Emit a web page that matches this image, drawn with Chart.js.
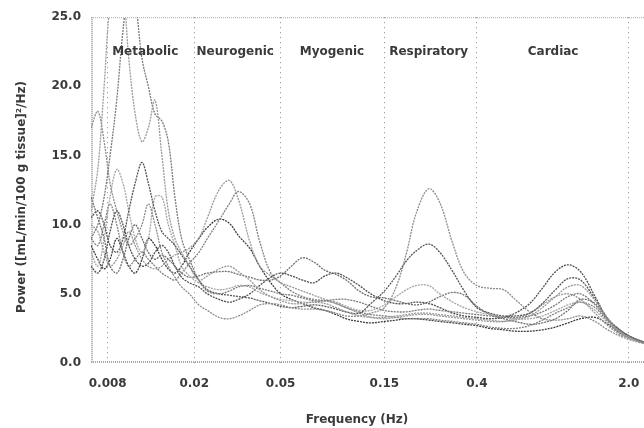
<!DOCTYPE html>
<html><head><meta charset="utf-8">
<style>html,body{margin:0;padding:0;background:#fff;overflow:hidden}#wrap{width:644px;height:428px}</style>
<script src="https://cdn.jsdelivr.net/npm/chart.js@4.4.0/dist/chart.umd.min.js"></script>
</head><body><div id="wrap"><canvas id="c" width="644" height="428"></canvas></div>
<script>
const FREQ = [0.0067, 0.0072, 0.0077, 0.0082, 0.0088, 0.0094, 0.010, 0.0107, 0.0115, 0.0123, 0.0132, 0.0142, 0.0152, 0.0163, 0.0175, 0.019, 0.021, 0.023, 0.026, 0.029, 0.032, 0.036, 0.040, 0.045, 0.050, 0.056, 0.063, 0.071, 0.080, 0.090, 0.10, 0.115, 0.13, 0.15, 0.17, 0.19, 0.21, 0.24, 0.27, 0.31, 0.35, 0.40, 0.46, 0.53, 0.60, 0.70, 0.80, 0.92, 1.05, 1.2, 1.4, 1.6, 1.85, 2.1, 2.35];
const S1 = [11,14,20,26,28,27,22,18,16,17, 19,15,11,9,8,7,6,6.3,6.8,7, 6.6,6,5.3,4.8,4.5,4.3,4.3,4.4,4.3,4.0, 3.7,3.4,3.3,3.3,3.4,3.5,3.6,3.6,3.5,3.4, 3.3,3.2,3.1,3.0,3.1,3.4,4.0,4.8,5.5,5.6, 4.5,3.2,2.2,1.7,1.4];
const S2 = [9,10,12,15,19,24,27,26,22,20, 18,17.5,16,12,9,7.5,6,5.2,5,5.2, 5.5,5.6,5.4,5.2,5,4.9,4.7,4.5,4.5,4.6, 4.6,4.4,4.1,3.8,3.7,3.7,3.8,3.9,3.8,3.7, 3.6,3.5,3.4,3.3,3.3,3.4,3.7,4.2,4.8,5.0, 4.2,3.1,2.2,1.8,1.5];
const S3 = [17,18.2,16,13,11,9.5,8.5,9,10,11.5, 10,8,7,6.2,5.5,5,4.2,3.8,3.3,3.2, 3.4,3.8,4.2,4.3,4.2,4,3.9,3.9,3.8,3.6, 3.4,3.4,3.6,4.0,5.5,8.0,10.8,12.6,11.6,8.6, 6.5,5.6,5.4,5.3,4.6,3.7,3.2,3.1,3.2,3.4, 3.0,2.4,1.9,1.6,1.4];
const S4 = [10.5,11,10,8.5,8,9,11,13,14.5,13, 11,9.5,9,8.5,7.8,7,6,5.3,5,4.9, 4.8,4.7,4.5,4.3,4.1,4,4.1,4.2,4.1,3.9, 3.7,3.6,4.3,5.2,6.3,7.4,8.1,8.6,8.0,6.6, 5.2,4.0,3.6,3.4,3.4,3.6,4.3,5.3,6.1,6.0, 4.6,3.2,2.3,1.8,1.5];
const S5 = [8,7,9,12,14,13,11,9,8,9, 12,12,10,8.5,7,6.3,5.8,5.5,5.3,5.4, 5.6,5.5,5.1,4.8,4.6,4.5,4.4,4.4,4.5,4.4, 4.1,3.8,3.8,4.2,4.8,5.3,5.6,5.6,5.0,4.4, 4.0,3.7,3.5,3.3,3.2,3.2,3.4,3.8,4.2,4.4, 3.8,2.9,2.1,1.7,1.5];
const S6 = [12,10.5,9,7,6.5,7.5,9,10,9,8, 7.5,7.8,7.5,7,6.5,6.2,6.3,6.5,6.6,6.6, 6.4,6.2,6.0,6.0,6.3,7.0,7.6,7.3,6.7,6.4, 6.0,5.2,4.8,4.7,4.5,4.3,4.2,4.4,4.8,5.1, 4.9,4.1,3.5,3.2,3.0,2.8,2.9,3.2,3.8,4.6, 4.3,3.2,2.3,1.8,1.5];
const S7 = [7,6.5,7.5,9.5,11,10,8.5,7.5,7,7.2, 8,8.5,8,7,6.2,5.8,5.5,5.0,4.6,4.4, 4.6,5.0,5.6,6.2,6.5,6.3,6.0,5.8,6.3,6.5, 6.2,5.6,5.0,4.5,4.3,4.3,4.4,4.3,4.0,3.6, 3.4,3.3,3.2,3.3,3.6,4.3,5.4,6.6,7.1,6.6, 4.8,3.2,2.3,1.8,1.5];
const S8 = [10,9.5,8,7,7.5,8.5,9.5,8.5,7.5,7, 6.8,7,7.5,7.8,8,8.3,9,10.5,12.5,13.2, 11.8,8.8,7.0,6.3,5.8,5.5,5.2,4.9,4.6,4.3, 4.0,3.6,3.3,3.2,3.3,3.4,3.5,3.5,3.4,3.3, 3.2,3.1,3.0,3.0,3.2,3.6,4.2,4.8,5.0,4.6, 3.6,2.7,2.0,1.7,1.5];
const S9 = [9,8.5,10,11.5,10,8,7,7.5,8,7.5, 7,6.5,6.2,6,6.5,7.2,8,9,10.3,11.5, 12.4,11.5,8.8,6.5,5.8,5.2,4.8,4.6,4.5,4.3, 4.0,3.7,3.5,3.4,3.3,3.2,3.2,3.2,3.1,3.0, 2.9,2.8,2.6,2.5,2.5,2.7,3.1,3.6,4.0,4.4, 4.0,3.0,2.1,1.7,1.5];
const S10 = [8.5,7.5,6.8,7.5,9,8,7,6.5,7.5,9, 8.5,7.5,6.8,6.5,7,8,9,9.8,10.4,10.1, 9.2,8.3,7,5.8,5,4.6,4.3,4.0,3.8,3.5, 3.2,3.0,2.9,3.0,3.1,3.2,3.2,3.1,3.0,2.9, 2.8,2.7,2.5,2.4,2.3,2.3,2.4,2.6,2.9,3.2, 3.3,2.8,2.1,1.7,1.5];
const SERIES = [S1, S2, S3, S4, S5, S6, S7, S8, S9, S10];
const SERIES_COLORS = ['#9a9a9a', '#7a7a7a', '#8c8c8c', '#555555', '#a5a5a5', '#6e6e6e', '#4d4d4d', '#999999', '#808080', '#3c3c3c'];
const X_TICKS = [0.008, 0.02, 0.05, 0.15, 0.4, 2.0];
const X_TICK_LABELS = ['0.008', '0.02', '0.05', '0.15', '0.4', '2.0'];
const Y_TICKS = [0, 5, 10, 15, 20, 25];
const REGION_NAMES = ['Metabolic', 'Neurogenic', 'Myogenic', 'Respiratory', 'Cardiac'];
const REGION_CENTERS = [0.0119, 0.0309, 0.0861, 0.240, 0.897];
const X_TITLE = 'Frequency (Hz)';
const Y_TITLE = 'Power ([mL/min/100 g tissue]\u00B2/Hz)';

const FONT = 'bold 12px "DejaVu Sans", sans-serif';
const TEXT = '#3a3a3a';

const decor = {
  id: 'decor',
  beforeDatasetsDraw(chart) {
    const {ctx, chartArea: a} = chart;
    ctx.save();
    ctx.strokeStyle = '#a8a8a8';
    ctx.lineWidth = 2;
    ctx.setLineDash([1, 1]);
    ctx.beginPath();
    ctx.moveTo(a.left + 1, a.top); ctx.lineTo(a.left + 1, a.bottom);
    ctx.moveTo(a.left, a.bottom - 1); ctx.lineTo(a.right, a.bottom - 1);
    ctx.stroke();
    ctx.lineWidth = 1;
    ctx.beginPath();
    ctx.moveTo(a.left, a.top + 0.5); ctx.lineTo(a.right, a.top + 0.5);
    ctx.stroke();
    ctx.restore();
  },
  afterDraw(chart) {
    const {ctx, chartArea: a} = chart;
    const xs = chart.scales.x;
    ctx.save();
    ctx.font = FONT;
    ctx.fillStyle = TEXT;
    ctx.textAlign = 'center';
    ctx.textBaseline = 'middle';
    REGION_NAMES.forEach((n, i) => {
      ctx.fillText(n, xs.getPixelForValue(REGION_CENTERS[i]), a.top + 35);
    });
    ctx.fillText(X_TITLE, 357, 420);
    ctx.translate(22, 197);
    ctx.rotate(-Math.PI / 2);
    ctx.fillText(Y_TITLE, 0, 0);
    ctx.restore();
  }
};

new Chart(document.getElementById('c'), {
  type: 'line',
  data: {
    datasets: SERIES.map((s, i) => ({
      data: s.map((v, j) => ({x: FREQ[j], y: v})),
      borderColor: SERIES_COLORS[i],
      borderWidth: 1.3,
      borderDash: [2, 1],
      pointRadius: 0,
      tension: 0.35,
      fill: false
    }))
  },
  options: {
    responsive: false,
    animation: false,
    devicePixelRatio: 1,
    layout: {padding: {top: 16, right: 0, left: 0, bottom: 0}},
    plugins: {legend: {display: false}, tooltip: {enabled: false}},
    scales: {
      x: {
        type: 'logarithmic',
        min: 0.0067, max: 2.35,
        afterBuildTicks: s => { s.ticks = X_TICKS.map(v => ({value: v})); },
        afterFit: s => { s.height = 65; s.paddingRight = 0; s.paddingLeft = 0; },
        ticks: {
          callback: v => X_TICK_LABELS[X_TICKS.indexOf(v)],
          autoSkip: false, maxRotation: 0, padding: 14,
          font: {family: '"DejaVu Sans", sans-serif', size: 12, weight: 'bold'}, color: TEXT
        },
        grid: {color: '#8a8a8a', lineWidth: 1, drawTicks: false},
        border: {display: false, dash: [1, 4]}
      },
      y: {
        min: 0, max: 25,
        afterBuildTicks: s => { s.ticks = Y_TICKS.map(v => ({value: v})); },
        afterFit: s => { s.width = 91; },
        ticks: {
          callback: v => Number(v).toFixed(1),
          padding: 10,
          font: {family: '"DejaVu Sans", sans-serif', size: 12, weight: 'bold'}, color: TEXT
        },
        grid: {display: false, drawTicks: false},
        border: {display: false}
      }
    }
  },
  plugins: [decor]
});
</script>
</body></html>
